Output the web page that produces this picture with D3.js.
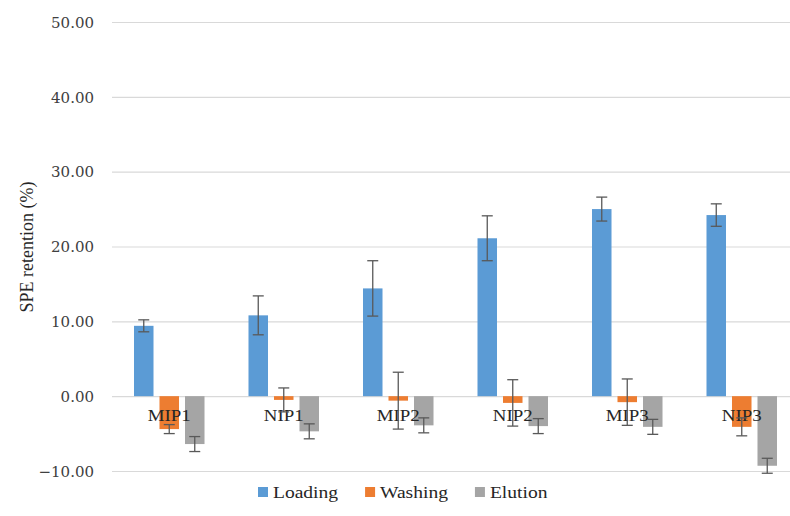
<!DOCTYPE html>
<html>
<head>
<meta charset="utf-8">
<script src="https://cdn.jsdelivr.net/npm/d3@7"></script>
<style>
  html, body { margin: 0; padding: 0; background: #ffffff; }
  svg { display: block; }
</style>
</head>
<body>
<svg id="chart" width="790" height="516"></svg>
<script>
// Sorbent groups along the x axis
const categories = ["MIP1", "NIP1", "MIP2", "NIP2", "MIP3", "NIP3"];
// SPE steps shown as bars within each group
const series = ["Loading", "Washing", "Elution"];
const colors = ["#5b9bd5", "#ed7d31", "#a5a5a5"];

// Mean retention (%) per step, one value per sorbent
const loading = [9.4, 10.8, 14.4, 21.1, 25.0, 24.2];
const washing = [-4.4, -0.5, -0.6, -0.9, -0.8, -4.1];
const elution = [-6.4, -4.7, -3.9, -4.0, -4.1, -9.3];

// Standard deviations (error bar half-lengths)
const loadingErr = [0.8, 2.6, 3.7, 3.0, 1.6, 1.5];
const washingErr = [0.6, 1.6, 3.8, 3.1, 3.1, 1.2];
const elutionErr = [1.0, 1.0, 1.0, 1.0, 1.0, 1.0];

const yTicks = [-10, 0, 10, 20, 30, 40, 50];
const yTitle = "SPE retention (%)";

const values = [loading, washing, elution];
const errors = [loadingErr, washingErr, elutionErr];

const rows = [];
categories.forEach((c, i) => {
  series.forEach((s, j) => {
    rows.push({ cat: c, ser: s, idx: j, value: values[j][i], err: errors[j][i] });
  });
});

const svg = d3.select("#chart");
const W = 790;
const plotLeft = 112, plotRight = 799;

const x = d3.scaleBand().domain(categories).range([plotLeft, plotRight]);
const xs = d3.scaleBand().domain(series).range([-38.25, 38.25])
  .paddingInner(0.235).paddingOuter(0.1175);
const y = d3.scaleLinear().domain([-10, 50]).range([471, 22]);

// Gridlines and tick labels
const yAxis = d3.axisLeft(y).tickValues(yTicks).tickSize(0).tickPadding(0)
  .tickFormat(d3.format(".2f"));
const gy = svg.append("g").attr("transform", `translate(${plotLeft},0)`).call(yAxis);
gy.select(".domain").remove();
gy.selectAll("text")
  .attr("x", -18)
  .attr("dy", "0.35em")
  .attr("fill", "#404040")
  .style("font-family", "'DejaVu Serif', serif")
  .style("font-size", "15px");
gy.selectAll(".tick line")
  .attr("x1", 0).attr("x2", W - plotLeft)
  .attr("stroke", "#d9d9d9").attr("stroke-width", 1.2);

// Bars
const gBars = svg.append("g");
gBars.selectAll("rect").data(rows).join("rect")
  .attr("x", d => x(d.cat) + x.bandwidth() / 2 + xs(d.ser))
  .attr("width", xs.bandwidth())
  .attr("y", d => y(Math.max(0, d.value)))
  .attr("height", d => Math.abs(y(d.value) - y(0)))
  .attr("fill", d => colors[d.idx]);

// Category labels sitting just under the zero line
const labelScaleX = 1.18;
svg.append("g").selectAll("text").data(categories).join("text")
  .attr("transform", d => `translate(${x(d) + x.bandwidth() / 2},421) scale(${labelScaleX},1)`)
  .attr("text-anchor", "middle")
  .attr("fill", "#262626")
  .style("font-family", "'Liberation Serif', serif")
  .style("font-size", "16px")
  .text(d => d);

// Error bars
const cap = 5.5;
const gErr = svg.append("g").attr("stroke", "#595959").attr("stroke-width", 1.3).attr("fill", "none");
const eb = gErr.selectAll("g").data(rows).join("g")
  .attr("transform", d => `translate(${x(d.cat) + x.bandwidth() / 2 + xs(d.ser) + xs.bandwidth() / 2},0)`);
eb.append("line")
  .attr("y1", d => y(d.value + d.err)).attr("y2", d => y(d.value - d.err));
eb.append("line")
  .attr("x1", -cap).attr("x2", cap)
  .attr("y1", d => y(d.value + d.err)).attr("y2", d => y(d.value + d.err));
eb.append("line")
  .attr("x1", -cap).attr("x2", cap)
  .attr("y1", d => y(d.value - d.err)).attr("y2", d => y(d.value - d.err));

// Y axis title
svg.append("text")
  .attr("transform", "translate(33,247) rotate(-90)")
  .attr("text-anchor", "middle")
  .attr("fill", "#262626")
  .style("font-family", "'Liberation Serif', serif")
  .style("font-size", "18px")
  .text(yTitle);

// Legend
const legend = svg.append("g").attr("transform", "translate(258,492)");
let lx = 0;
series.forEach((s, i) => {
  const item = legend.append("g").attr("transform", `translate(${lx},0)`);
  item.append("rect").attr("x", 0).attr("y", -5).attr("width", 10).attr("height", 10)
    .attr("fill", colors[i]);
  const t = item.append("text")
    .attr("transform", "translate(15,6) scale(1.15,1)")
    .attr("fill", "#262626")
    .style("font-family", "'Liberation Serif', serif")
    .style("font-size", "17px")
    .text(s);
  lx += 15 + t.node().getComputedTextLength() * 1.15 + 27;
});
</script>
</body>
</html>
